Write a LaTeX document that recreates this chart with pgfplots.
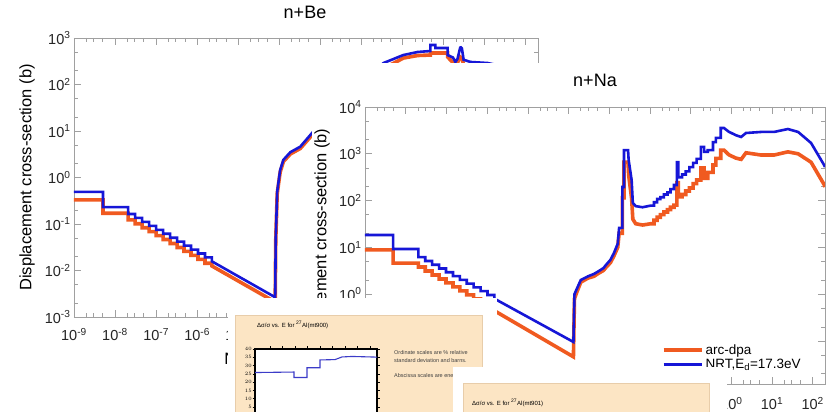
\documentclass[border=0pt]{standalone}
\usepackage{fontspec}
\setmainfont{Liberation Sans}
\usepackage{pgfplots}
\pgfplotsset{compat=1.18}
\definecolor{dpaorange}{RGB}{240,90,32}
\definecolor{nrtblue}{RGB}{22,22,215}
\definecolor{framegray}{RGB}{160,160,160}
\definecolor{beige}{RGB}{252,229,196}
\definecolor{beigeedge}{RGB}{232,205,170}
\definecolor{thumbblue}{RGB}{60,60,200}

\pgfplotsset{
  xsec/.style={
    scale only axis,
    xmin=1e-9, xmax=200,
    axis line style={framegray, line width=0.8pt},
    every tick/.style={framegray, line width=0.6pt},
    major tick length=7pt, minor tick length=4pt,
    tick align=inside, xtick pos=both, ytick pos=both,
    tick label style={font=\fontsize{14.5}{16}\selectfont, text=black!85},
    xtick={1e-9,1e-8,1e-7,1e-6,1e-5,1e-4,1e-3,1e-2,1e-1,1,10,100},
    xticklabels={10\textsuperscript{-9},10\textsuperscript{-8},10\textsuperscript{-7},10\textsuperscript{-6},10\textsuperscript{-5},10\textsuperscript{-4},10\textsuperscript{-3},10\textsuperscript{-2},10\textsuperscript{-1},10\textsuperscript{0},10\textsuperscript{1},10\textsuperscript{2}},
    minor xtick={2e-9,3e-9,5e-9,2e-8,3e-8,5e-8,2e-7,3e-7,5e-7,2e-6,3e-6,5e-6,2e-5,3e-5,5e-5,2e-4,3e-4,5e-4,2e-3,3e-3,5e-3,2e-2,3e-2,5e-2,0.2,0.3,0.5,2,3,5,20,30,50},
    minor ytick={2e-3,5e-3,2e-2,5e-2,0.2,0.5,2,5,20,50,200,500,2000,5000},
  },
  dpa/.style={dpaorange, line width=3.6pt, line join=miter, miter limit=2},
  nrt/.style={nrtblue, line width=2.6pt, line join=miter, miter limit=2},
}

\begin{document}
\begin{tikzpicture}[x=1pt,y=1pt]
\useasboundingbox (0,0) rectangle (827,412);
\fill[white] (0,0) rectangle (827,412);

% ---------------- n+Be ----------------
\begin{axis}[xmode=log, ymode=log, xsec, at={(74pt,95pt)}, anchor=south west,
  width=464pt, height=279pt,
  ymin=1e-3, ymax=1e3,
  ytick={1e-3,1e-2,1e-1,1,10,100,1000},
  yticklabels={10\textsuperscript{-3},10\textsuperscript{-2},10\textsuperscript{-1},10\textsuperscript{0},10\textsuperscript{1},10\textsuperscript{2},10\textsuperscript{3}},
  xticklabel style={yshift=-8pt}]
\addplot[dpa] coordinates {
(1e-9,0.33) (5.1e-9,0.33) (5.1e-9,0.17) (2.09e-8,0.17) (2.09e-8,0.123) (3.09e-8,0.123)
(3.09e-8,0.101) (4.57e-8,0.101) (4.57e-8,0.083) (6.76e-8,0.083) (6.76e-8,0.0684) (1e-7,0.0684)
(1e-7,0.0563) (1.48e-7,0.0563) (1.48e-7,0.0463) (2.19e-7,0.0463) (2.19e-7,0.038) (3.24e-7,0.038)
(3.24e-7,0.0313) (4.79e-7,0.0313) (4.79e-7,0.0257) (7.08e-7,0.0257) (7.08e-7,0.0212) (1.05e-6,0.0212)
(1.05e-6,0.0174) (1.55e-6,0.0174) (1.55e-6,0.0143) (2.29e-6,0.0143) (2.29e-6,0.0125) (7.94e-5,0.0021)
(8.2e-5,0.045) (8.9e-5,0.45) (1.05e-4,1.3) (1.26e-4,2.2) (1.86e-4,3.2) (3.24e-4,4.2) (6.3e-4,8.2)
(3e-3,36) (1e-2,90) (3.47e-2,220) (0.105,370) (0.234,420) (0.479,430) (0.479,475) (1.26,475)
(1.26,390) (1.95,260) (2.2,300) (2.57,390) (2.8,370) (3.09,270) (4.57,240) (11.7,230) (40,180) (200,110)};
\addplot[nrt] coordinates {
(1e-9,0.49) (5.1e-9,0.49) (5.1e-9,0.23) (2.09e-8,0.23) (2.09e-8,0.164) (3.09e-8,0.164)
(3.09e-8,0.135) (4.57e-8,0.135) (4.57e-8,0.111) (6.76e-8,0.111) (6.76e-8,0.0912) (1e-7,0.0912)
(1e-7,0.075) (1.48e-7,0.075) (1.48e-7,0.0617) (2.19e-7,0.0617) (2.19e-7,0.0507) (3.24e-7,0.0507)
(3.24e-7,0.0417) (4.79e-7,0.0417) (4.79e-7,0.0343) (7.08e-7,0.0343) (7.08e-7,0.0282) (1.05e-6,0.0282)
(1.05e-6,0.0232) (1.55e-6,0.0232) (1.55e-6,0.0191) (2.29e-6,0.0191) (2.29e-6,0.0157) (7.94e-5,0.00266)
(8.2e-5,0.05) (8.9e-5,0.5) (1.05e-4,1.45) (1.26e-4,2.4) (1.86e-4,3.5) (3.24e-4,4.6) (6.3e-4,9.1)
(3e-3,40) (1e-2,100) (3.47e-2,290) (0.105,430) (0.234,500) (0.479,525) (0.479,707) (0.631,707)
(0.631,610) (1.26,610) (1.26,430) (1.7,380) (1.95,305) (2.2,360) (2.57,645) (2.8,600) (3.09,340)
(4.57,305) (11.7,290) (40,230) (200,150)};
\end{axis}
\node[font=\fontsize{18}{20}\selectfont] at (305,400) {n+Be};
\node[rotate=90, font=\fontsize{16.5}{18}\selectfont] at (27,234.5) {Displacement cross-section (b)};
\node[font=\fontsize{16.5}{18}\selectfont] at (306,52) {Neutron energy (MeV)};

% ---------------- n+Na ----------------
\fill[white] (312,0) rectangle (827,349);
\begin{axis}[xmode=log, ymode=log, xsec, at={(365pt,28pt)}, anchor=south west,
  width=460pt, height=277pt,
  ymin=0.012, ymax=1e4,
  ytick={1e-1,1,10,100,1000,10000},
  yticklabels={10\textsuperscript{-1},10\textsuperscript{0},10\textsuperscript{1},10\textsuperscript{2},10\textsuperscript{3},10\textsuperscript{4}},
  xticklabel style={yshift=-10pt},
  legend style={draw=none, fill=none, at={(0.645,0.15)}, anchor=north west,
    font=\fontsize{13.5}{15}\selectfont, inner sep=0pt, row sep=-1pt},
  legend cell align=left,
  legend image code/.code={\draw[#1] (0pt,0pt) -- (38pt,0pt);}]
\addplot[dpa] coordinates {
(1e-9,8.8) (4.9e-9,8.8) (4.9e-9,4.6) (2.04e-8,4.6) (2.04e-8,3.8) (3.02e-8,3.8)
(3.02e-8,3.13) (4.47e-8,3.13) (4.47e-8,2.57) (6.61e-8,2.57) (6.61e-8,2.11) (9.77e-8,2.11)
(9.77e-8,1.74) (1.45e-7,1.74) (1.45e-7,1.43) (2.14e-7,1.43) (2.14e-7,1.17) (3.16e-7,1.17)
(3.16e-7,0.966) (4.68e-7,0.966) (4.68e-7,0.794) (6.92e-7,0.794) (6.92e-7,0.653) (1.02e-6,0.653)
(1.02e-6,0.537) (1.51e-6,0.537) (1.51e-6,0.442) (1.32e-4,0.0457)
(1.4e-4,0.8) (1.6e-4,1.1) (2.0e-4,1.8) (3.0e-4,2.2) (4.2e-4,2.4) (5.5e-4,2.8) (7.2e-4,3.2)
(8.5e-4,3.8) (1.07e-3,4.7) (1.3e-3,6.5) (1.62e-3,10) (1.75e-3,20) (2.1e-3,20) (2.1e-3,115)
(2.3e-3,115) (2.3e-3,660) (2.9e-3,660) (3.0e-3,350) (3.55e-3,110) (3.8e-3,40) (4.47e-3,32)
(6.6e-3,30) (1.05e-2,32) (1.26e-2,32) (1.26e-2,38) (1.5e-2,38) (1.5e-2,44) (1.8e-2,44)
(1.8e-2,50) (2.2e-2,50) (2.2e-2,57) (2.7e-2,57) (2.7e-2,64) (3.2e-2,64) (3.2e-2,72)
(3.9e-2,72) (3.9e-2,80) (4.6e-2,80) (4.6e-2,240) (5.0e-2,240) (5.0e-2,120) (6.2e-2,120)
(6.2e-2,135) (7.6e-2,135) (7.6e-2,160) (9.3e-2,160) (9.3e-2,186) (0.115,186) (0.115,230)
(0.14,230) (0.14,275) (0.178,275) (0.178,500) (0.214,500) (0.214,300) (0.263,300)
(0.263,400) (0.355,400) (0.355,575) (0.417,575) (0.417,800) (0.55,800) (0.55,1200)
(0.66,1200) (0.87,950) (1.29,810) (1.74,760) (2.29,1050) (5.4,940) (11.2,940) (24.5,1100)
(43.7,1000) (91,660) (190,220) (200,195)};
\addlegendentry{arc-dpa}
\addplot[nrt] coordinates {
(1e-9,18.4) (4.9e-9,18.4) (4.9e-9,9.2) (2.04e-8,9.2) (2.04e-8,6.17) (3.02e-8,6.17)
(3.02e-8,5.12) (4.47e-8,5.12) (4.47e-8,4.25) (6.61e-8,4.25) (6.61e-8,3.53) (9.77e-8,3.53)
(9.77e-8,2.93) (1.45e-7,2.93) (1.45e-7,2.43) (2.14e-7,2.43) (2.14e-7,2.02) (3.16e-7,2.02)
(3.16e-7,1.68) (4.68e-7,1.68) (4.68e-7,1.39) (6.92e-7,1.39) (6.92e-7,1.16) (1.02e-6,1.16)
(1.02e-6,0.96) (1.51e-6,0.96) (1.51e-6,0.80) (1.32e-4,0.095)
(1.4e-4,1.0) (1.6e-4,1.3) (2.0e-4,2.0) (3.0e-4,2.4) (4.2e-4,2.7) (5.5e-4,3.1) (7.2e-4,3.6)
(8.5e-4,4.3) (1.07e-3,5.4) (1.3e-3,7.5) (1.62e-3,12) (1.75e-3,26) (2.1e-3,26) (2.1e-3,195)
(2.3e-3,195) (2.3e-3,1200) (2.9e-3,1200) (3.0e-3,740) (3.55e-3,275) (3.8e-3,89) (4.47e-3,76)
(6.6e-3,72) (1.05e-2,78) (1.26e-2,78) (1.26e-2,92) (1.5e-2,92) (1.5e-2,108) (1.8e-2,108)
(1.8e-2,118) (2.2e-2,118) (2.2e-2,135) (2.7e-2,135) (2.7e-2,150) (3.2e-2,150) (3.2e-2,175)
(3.9e-2,175) (3.9e-2,215) (4.6e-2,215) (4.6e-2,660) (5.0e-2,660) (5.0e-2,315) (6.2e-2,315)
(6.2e-2,360) (7.6e-2,360) (7.6e-2,420) (9.3e-2,420) (9.3e-2,520) (0.115,520) (0.115,640)
(0.14,640) (0.14,780) (0.178,780) (0.178,1400) (0.214,1400) (0.214,1100) (0.263,1100)
(0.263,1200) (0.355,1200) (0.355,1780) (0.417,1780) (0.417,2190) (0.55,2190) (0.55,3550)
(0.66,3550) (0.87,2950) (1.29,2500) (1.74,2290) (2.29,2780) (5.4,2930) (11.2,2930)
(24.5,3380) (43.7,2930) (91,1700) (190,575) (200,520)};
\addlegendentry{NRT,E\textsubscript{d}=17.3eV}
\end{axis}
\node[font=\fontsize{18}{20}\selectfont] at (595,332) {n+Na};
\node[rotate=90, font=\fontsize{16.5}{18}\selectfont] at (322,170) {Displacement cross-section (b)};

% ---------------- thumbnail mt900 ----------------
\fill[white] (228,0) rectangle (497,114);
\filldraw[fill=beige, draw=beigeedge, line width=0.6pt] (235,-2) rectangle (482,97);
\node[anchor=west, font=\fontsize{6}{7}\selectfont, inner sep=0pt] at (257,87) {Δσ/σ vs. E for \textsuperscript{27}Al(mt900)};
\begin{axis}[at={(255pt,-3.3pt)}, anchor=south west, scale only axis,
  width=122pt, height=66.3pt, xmin=0, xmax=122, ymin=0, ymax=40,
  ytick={5,10,15,20,25,30,35,40},
  xtick={15,27.5,40,52.5,65,77.5,90,102.5,115}, xticklabels={},
  tick align=outside, xtick pos=both, ytick pos=both,
  major tick length=2.5pt,
  axis line style={black, line width=1.1pt},
  every tick/.style={black, line width=0.5pt},
  yticklabel style={font=\fontsize{5}{5}\selectfont, inner sep=0.5pt},
  axis background/.style={fill=white}]
\addplot[thumbblue, line width=1.1pt] coordinates {
(0,25.8) (39,26.1) (39,22.8) (52,22.8) (52,28.7) (65,28.7) (65,33.4) (80,33.6) (87,35.2) (97,35.5) (122,35.1)};
\end{axis}
\node[anchor=west, font=\fontsize{5.5}{6}\selectfont, text=black!75, inner sep=0pt] at (394,59) {Ordinate scales are \% relative};
\node[anchor=west, font=\fontsize{5.5}{6}\selectfont, text=black!75, inner sep=0pt] at (394,51) {standard deviation and barns.};
\node[anchor=west, font=\fontsize{5.5}{6}\selectfont, text=black!75, inner sep=0pt] at (394,36) {Abscissa scales are energy (eV).};

% ---------------- thumbnail mt901 ----------------
\fill[white] (453,0) rectangle (727,45);
\filldraw[fill=beige, draw=beigeedge, line width=0.6pt] (463,-2) rectangle (709,29);
\node[anchor=west, font=\fontsize{6}{7}\selectfont, inner sep=0pt] at (472,9) {Δσ/σ vs. E for \textsuperscript{27}Al(mt901)};
\end{tikzpicture}
\end{document}
